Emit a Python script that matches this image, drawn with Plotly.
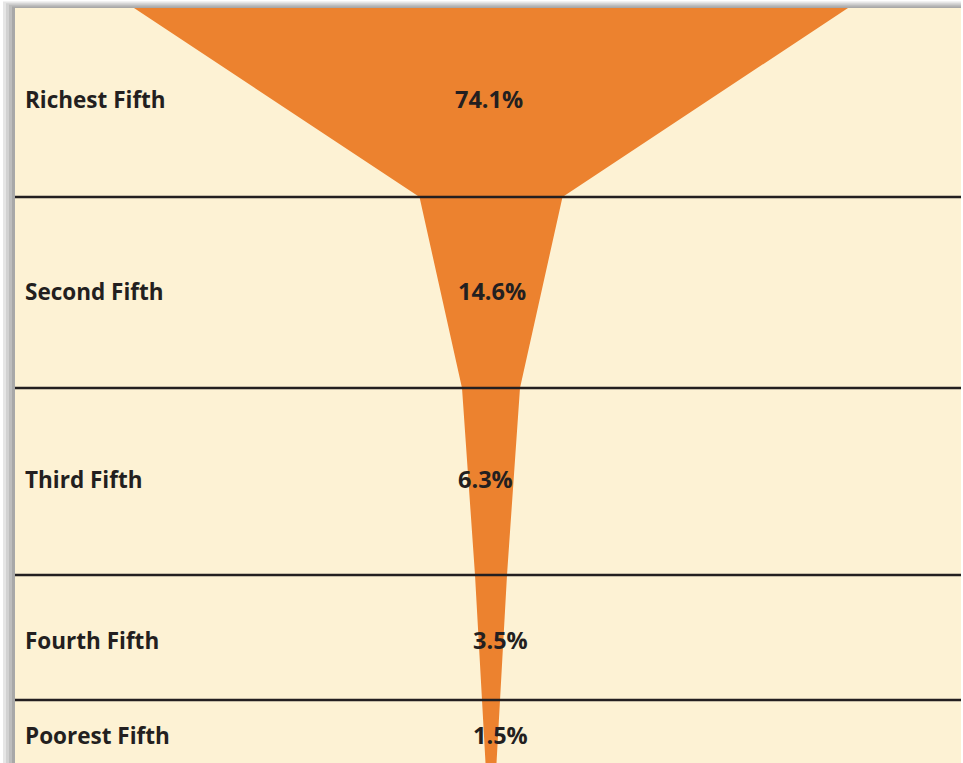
import plotly.graph_objects as go

# ---- data ----
groups = ["Richest Fifth", "Second Fifth", "Third Fifth", "Fourth Fifth", "Poorest Fifth"]
shares = [74.1, 14.6, 6.3, 3.5, 1.5]
share_labels = ["74.1%", "14.6%", "6.3%", "3.5%", "1.5%"]
# glass profile: half-width of the orange shape at each band boundary (top to bottom)
glass_halfwidth = [357, 71.5, 29, 16, 9, 5.5]

# ---- layout constants ----
W, H = 963, 763
panel_left, panel_top = 15, 8
center_x = 491
band_edges = [panel_top, 197, 388, 575, 700, H]
label_y = [99, 291, 479, 640, 735]
pct_x = [489, 492, 485, 500, 500]

CREAM = "#FDF2D4"
ORANGE = "#EC822F"
LINE = "#231F20"
FONT = "Open Sans"

fig = go.Figure()

# glass polygon
xs = [center_x - h for h in glass_halfwidth] + [center_x + h for h in reversed(glass_halfwidth)]
ys = band_edges + list(reversed(band_edges))
fig.add_trace(go.Scatter(x=xs, y=ys, fill="toself", fillcolor=ORANGE, mode="lines",
                         line=dict(width=0, color=ORANGE), hoverinfo="skip", showlegend=False))

shapes = []
# shadow around panel
shadow = ["#e6e6e6", "#d2d2d2", "#bdbdbd", "#a8a8a8", "#949494"]
for i, c in enumerate(shadow):
    shapes.append(dict(type="rect", xref="x", yref="y", layer="below",
                       x0=panel_left - (len(shadow) - i) * 3 + 3, x1=W - 2,
                       y0=panel_top - (len(shadow) - i) * 1.6 + 1.6, y1=H + 5,
                       fillcolor=c, line=dict(width=0)))
shapes.append(dict(type="rect", xref="x", yref="y", layer="below",
                   x0=panel_left, x1=W - 2, y0=panel_top, y1=H + 5,
                   fillcolor=CREAM, line=dict(width=0)))
# band lines
for y in band_edges[1:-1]:
    shapes.append(dict(type="line", xref="x", yref="y", layer="above",
                       x0=panel_left, x1=W - 2, y0=y, y1=y,
                       line=dict(color=LINE, width=2.5)))

annotations = []
for g, y in zip(groups, label_y):
    annotations.append(dict(x=23, y=y, xref="x", yref="y", text="<b>%s</b>" % g,
                            showarrow=False, xanchor="left", yanchor="middle",
                            font=dict(family=FONT, size=22.5, color=LINE)))
for t, x, y in zip(share_labels, pct_x, label_y):
    annotations.append(dict(x=x, y=y, xref="x", yref="y", text="<b>%s</b>" % t,
                            showarrow=False, xanchor="center", yanchor="middle",
                            font=dict(family=FONT, size=23.5, color=LINE)))

fig.update_layout(
    width=W, height=H,
    margin=dict(l=0, r=0, t=0, b=0),
    paper_bgcolor="#ffffff", plot_bgcolor="#ffffff",
    xaxis=dict(range=[0, W], visible=False, fixedrange=True),
    yaxis=dict(range=[H, 0], visible=False, fixedrange=True),
    shapes=shapes, annotations=annotations, showlegend=False,
)

fig.write_html("out.html", config={"staticPlot": True},
               post_script="document.body.style.margin='0';document.body.style.overflow='hidden';")
